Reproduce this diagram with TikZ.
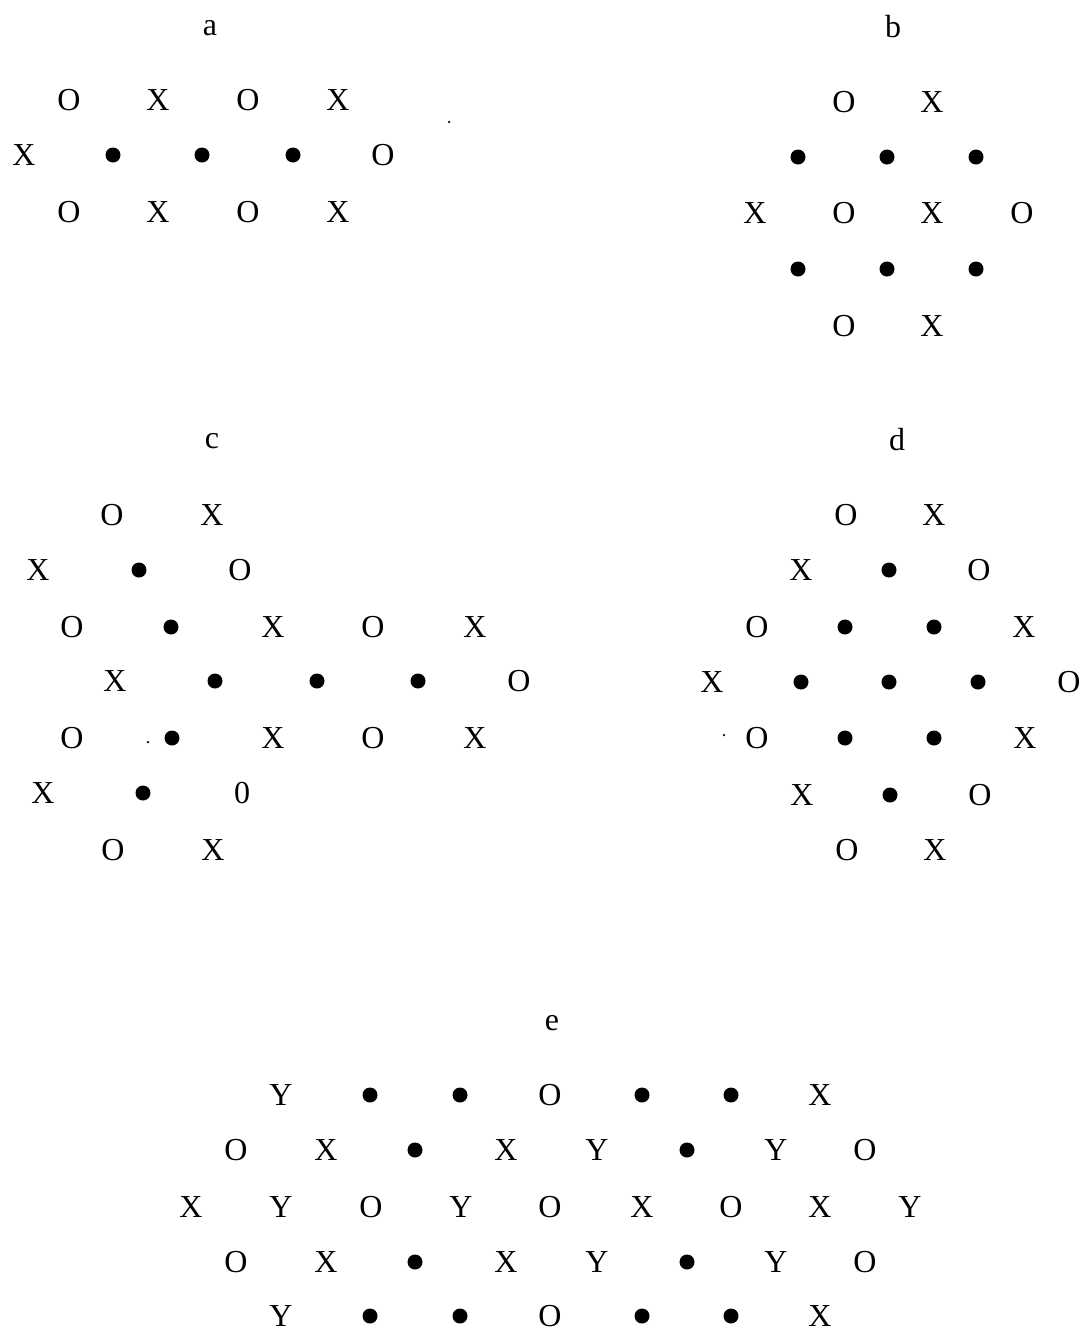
\documentclass[tikz,border=0pt]{standalone}
\usepackage{fontspec}
\setmainfont{Liberation Serif}
\begin{document}
\begin{tikzpicture}[x=1pt,y=-1pt,
  glyph/.style={inner sep=0pt, font=\fontsize{32}{38}\selectfont},
  lbl/.style={inner sep=0pt, anchor=base, font=\fontsize{32}{38}\selectfont},
  blob/.style={circle, fill=black, inner sep=0pt, minimum size=15pt},
  speck/.style={circle, fill=black, inner sep=0pt, minimum size=2.5pt}]
\useasboundingbox (0,0) rectangle (1082,1331);
\def\dotmark{D}
\newcommand\placerow[3]{%
  \foreach \xx/\sym [count=\i] in {#3} {%
    \ifx\sym\dotmark
      \node[blob] (#1-\i) at (\xx,#2) {};
    \else
      \node[glyph] (#1-\i) at (\xx,#2) {\sym};
    \fi
  }}
% labels
\node[lbl] (la) at (210,35) {a};
\node[lbl] (lb) at (893,37) {b};
\node[lbl] (lc) at (212,448) {c};
\node[lbl] (ld) at (897,450) {d};
\node[lbl] (le) at (552,1030) {e};
% panel a
\placerow{a1}{100}{69/O,158/X,248/O,338/X}
\placerow{a2}{155}{24/X,113/D,202/D,293/D,383/O}
\placerow{a3}{212}{69/O,158/X,248/O,338/X}
\node[speck] (sa) at (449,122) {};
% panel b
\placerow{b1}{102}{844/O,932/X}
\placerow{b2}{157}{798/D,887/D,976/D}
\placerow{b3}{213}{755/X,844/O,932/X,1022/O}
\placerow{b4}{269}{798/D,887/D,976/D}
\placerow{b5}{326}{844/O,932/X}
% panel c
\placerow{c1}{515}{112/O,212/X}
\placerow{c2}{570}{38/X,139/D,240/O}
\placerow{c3}{627}{72/O,171/D,273/X,373/O,475/X}
\placerow{c4}{681}{115/X,215/D,317/D,418/D,519/O}
\placerow{c5}{738}{72/O,172/D,273/X,373/O,475/X}
\placerow{c6}{793}{43/X,143/D,242/0}
\placerow{c7}{850}{113/O,213/X}
\node[speck] (sc) at (148,742) {};
% panel d
\placerow{d1}{515}{846/O,934/X}
\placerow{d2}{570}{801/X,889/D,979/O}
\placerow{d3}{627}{757/O,845/D,934/D,1024/X}
\placerow{d4}{682}{712/X,801/D,889/D,978/D,1069/O}
\placerow{d5}{738}{757/O,845/D,934/D,1025/X}
\placerow{d6}{795}{802/X,890/D,980/O}
\placerow{d7}{850}{847/O,935/X}
\node[speck] (sd) at (724,735) {};
% panel e
\placerow{e1}{1095}{281/Y,370/D,460/D,550/O,642/D,731/D,820/X}
\placerow{e2}{1150}{236/O,326/X,415/D,506/X,597/Y,687/D,776/Y,865/O}
\placerow{e3}{1207}{191/X,281/Y,371/O,461/Y,550/O,642/X,731/O,820/X,910/Y}
\placerow{e4}{1262}{236/O,326/X,415/D,506/X,597/Y,687/D,776/Y,865/O}
\placerow{e5}{1316}{281/Y,370/D,460/D,550/O,642/D,731/D,820/X}
\end{tikzpicture}
\end{document}
